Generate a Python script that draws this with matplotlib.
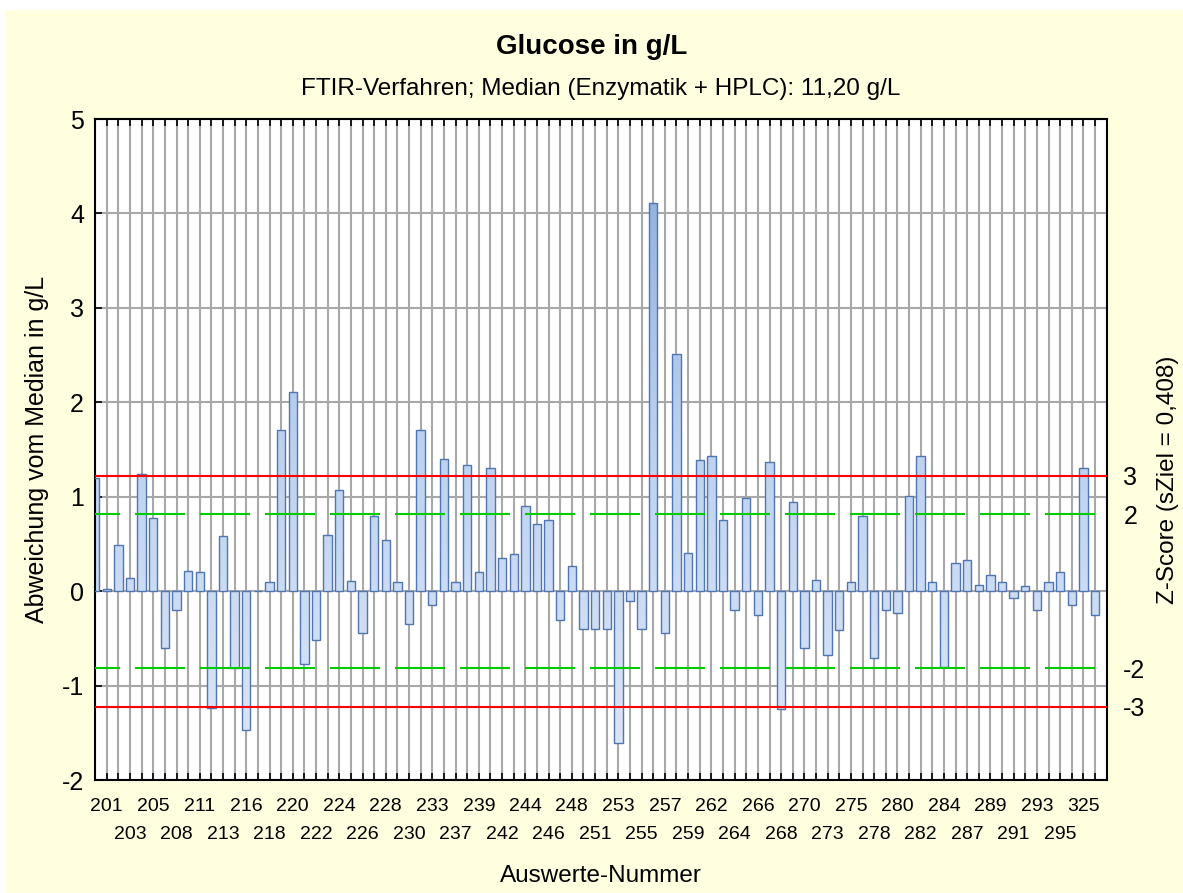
import matplotlib
matplotlib.use('Agg')
import matplotlib.pyplot as plt
import numpy as np
from matplotlib.patches import Rectangle
from matplotlib.path import Path
from matplotlib.colors import LinearSegmentedColormap

plt.rcParams['font.family'] = ['Liberation Sans', 'DejaVu Sans']
plt.rcParams['lines.scale_dashes'] = False

# Abweichung vom Median (g/L), eine pro Position
abweichung = [1.20, 0.02, 0.49, 0.14, 1.24, 0.77, -0.60, -0.20, 0.21, 0.20,
              -1.24, 0.58, -0.81, -1.47, 0.00, 0.10, 1.71, 2.11, -0.77, -0.52,
              0.60, 1.07, 0.11, -0.44, 0.80, 0.54, 0.10, -0.35, 1.71, -0.15,
              1.40, 0.10, 1.34, 0.20, 1.30, 0.35, 0.39, 0.90, 0.71, 0.75,
              -0.30, 0.27, -0.40, -0.40, -0.40, -1.61, -0.10, -0.40, 4.11, -0.44,
              2.51, 0.40, 1.39, 1.43, 0.75, -0.20, 0.99, -0.25, 1.37, -1.25,
              0.94, -0.60, 0.12, -0.68, -0.41, 0.10, 0.80, -0.71, -0.20, -0.23,
              1.01, 1.43, 0.10, -0.80, 0.30, 0.33, 0.07, 0.17, 0.10, -0.07,
              0.05, -0.20, 0.10, 0.20, -0.15, 1.30, -0.25]

# beschriftete Auswerte-Nummern (jede zweite Position, ab Position 1)
nummern = ['201', '203', '205', '208', '211', '213', '216', '218', '220', '222',
           '224', '226', '228', '230', '233', '237', '239', '242', '244', '246',
           '248', '251', '253', '255', '257', '259', '262', '264', '266', '268',
           '270', '273', '275', '278', '280', '282', '284', '287', '289', '291',
           '293', '295', '325']

s_ziel = 0.408
z_grenzen_gruen = [-2, 2]
z_grenzen_rot = [-3, 3]

n = len(abweichung)
x = np.arange(n)

fig = plt.figure(figsize=(11.83, 8.93), dpi=100, facecolor='white')
fig.add_artist(Rectangle((5 / 1183, 0), 1, 1 - 10 / 893, transform=fig.transFigure,
                         facecolor='#ffffe0', edgecolor='none', zorder=-10))

ax = fig.add_axes([0.0804, 0.1265, 0.8551, 0.7402])
ax.set_facecolor('white')

# Balken: Rahmen + Farbverlauf
bars = ax.bar(x, abweichung, width=0.72, facecolor='none', edgecolor='#5175b0',
              linewidth=1.0, zorder=3)
pfade = [b.get_patch_transform().transform_path(b.get_path()) for b in bars]
clip = Path.make_compound_path(*pfade)
cmap = LinearSegmentedColormap.from_list('verlauf', ['#dde8f7', '#bdd2ef', '#86a9dd'])
grad = np.linspace(0, 1, 256).reshape(-1, 1)
im = ax.imshow(grad, extent=[0, n, -2, 5], origin='lower', aspect='auto',
               cmap=cmap, zorder=2.5)
im.set_clip_path(clip, ax.transData)
ax.set_xlim(0, n)
ax.set_ylim(-2, 5)

# Grenzlinien
for z in z_grenzen_gruen:
    ax.axhline(z * s_ziel, color='#00cc00', linewidth=1.5,
               linestyle=(18, (36, 10.8)), zorder=4)
for z in z_grenzen_rot:
    ax.axhline(z * s_ziel, color='#ff0000', linewidth=1.5, zorder=4)

# x-Ticks: obere Reihe als Major, alle übrigen Positionen als Minor
oben = [1 + 2 * i for i in range(0, len(nummern), 2)]
unten = [1 + 2 * i for i in range(1, len(nummern), 2)]
rest = [p for p in range(n + 1) if p not in oben]
ax.set_xticks(oben)
ax.set_xticklabels(nummern[0::2], fontsize=14)
ax.set_xticks(rest, minor=True)
ax.set_xticklabels([nummern[unten.index(p) * 2 + 1] if p in unten else '' for p in rest],
                   minor=True, fontsize=14)
ax.tick_params(axis='x', which='major', direction='in', length=5, width=1.2,
               top=True, pad=13)
ax.tick_params(axis='x', which='minor', direction='in', length=5, width=1.2,
               top=True, pad=33)

ax.set_yticks(np.arange(-2, 6))
ax.set_yticklabels([str(v) for v in range(-2, 6)], fontsize=18)
ax.tick_params(axis='y', direction='in', length=5, width=1.2, right=True, pad=8)
ax.grid(True, which='both', color='#a8a8a8', linewidth=1.5, zorder=0)
ax.set_axisbelow(True)
for sp in ax.spines.values():
    sp.set_linewidth(1.5)
    sp.set_color('black')

ax.set_ylabel('Abweichung vom Median in g/L', fontsize=18, va='center')
ax.yaxis.set_label_coords(-0.057, 0.5)
ax.set_xlabel('Auswerte-Nummer', fontsize=17.5, va='center')
ax.xaxis.set_label_coords(0.5, -0.145)

# rechte Achse: Z-Score
ax2 = ax.twinx()
ax2.set_ylim(-2, 5)
z_alle = z_grenzen_rot[:1] + z_grenzen_gruen + z_grenzen_rot[1:]
ax2.set_yticks([z * s_ziel for z in z_alle])
ax2.set_yticklabels([str(z) for z in z_alle], fontsize=18)
ax2.tick_params(axis='y', length=0, pad=12)
for sp in ax2.spines.values():
    sp.set_visible(False)
ax2.set_ylabel('Z-Score (sZiel = 0,408)', fontsize=17.5, va='center')
ax2.yaxis.set_label_coords(1.061, 0.454)

fig.text(0.5, 1 - 47 / 893, 'Glucose in g/L', fontsize=20, fontweight='bold',
         ha='center', va='center')
fig.text(601 / 1183, 1 - 89 / 893,
         'FTIR-Verfahren; Median (Enzymatik + HPLC): 11,20 g/L',
         fontsize=17.5, ha='center', va='center')

fig.savefig('out.png', dpi=100, facecolor='white')
